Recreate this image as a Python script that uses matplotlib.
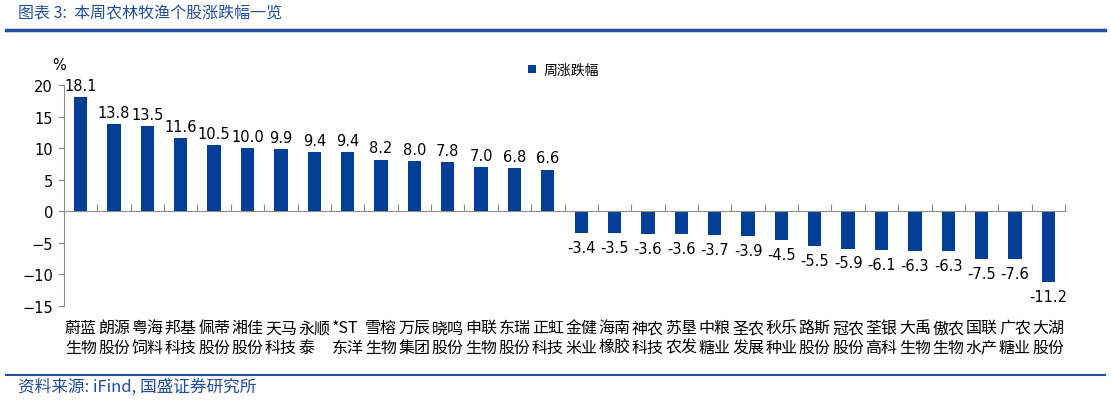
import matplotlib
matplotlib.use('Agg')
import matplotlib.pyplot as plt
from matplotlib.transforms import blended_transform_factory

plt.rcParams['font.family'] = ['DejaVu Sans', 'Noto Sans CJK SC']

# stock names (two lines each) and weekly change in %
names = ['蔚蓝\n生物', '朗源\n股份', '粤海\n饲料', '邦基\n科技', '佩蒂\n股份', '湘佳\n股份',
         '天马\n科技', '永顺\n泰', '*ST\n东洋', '雪榕\n生物', '万辰\n集团', '晓鸣\n股份',
         '申联\n生物', '东瑞\n股份', '正虹\n科技', '金健\n米业', '海南\n橡胶', '神农\n科技',
         '苏垦\n农发', '中粮\n糖业', '圣农\n发展', '秋乐\n种业', '路斯\n股份', '冠农\n股份',
         '荃银\n高科', '大禹\n生物', '傲农\n生物', '国联\n水产', '广农\n糖业', '大湖\n股份']
changes = [18.1, 13.8, 13.5, 11.6, 10.5, 10.0, 9.9, 9.4, 9.4, 8.2, 8.0, 7.8, 7.0, 6.8, 6.6,
           -3.4, -3.5, -3.6, -3.6, -3.7, -3.9, -4.5, -5.5, -5.9, -6.1, -6.3, -6.3, -7.5, -7.6, -11.2]
yticks = [-15, -10, -5, 0, 5, 10, 15, 20]

bar_color = '#003F95'
line_color = '#1F4E9E'
axis_color = '#8C8C8C'
cjk = ['Noto Sans CJK SC', 'DejaVu Sans']

fig = plt.figure(figsize=(11.11, 4.10), dpi=100)
ax = fig.add_axes([64 / 1111, 1 - 307 / 410, 1001 / 1111, 221 / 410])

x = list(range(len(changes)))
bars = ax.bar(x, changes, width=0.4, color=bar_color, label='周涨跌幅')

for xi, v in zip(x, changes):
    if v >= 0:
        ax.annotate(f'{v:.1f}', (xi, v), xytext=(0, 3), textcoords='offset points',
                    ha='center', va='bottom', fontsize=10.5)
    else:
        ax.annotate(f'{v:.1f}', (xi, v), xytext=(0, -5), textcoords='offset points',
                    ha='center', va='top', fontsize=10.5)

ax.set_xlim(-0.5, len(changes) - 0.5)
ax.set_ylim(-15, 20)
ax.set_yticks(yticks)
ax.tick_params(axis='y', labelsize=10.5, length=4, color=axis_color, direction='out', pad=4)

# category boundary ticks on the zero line
ax.spines['bottom'].set_position(('data', 0))
ax.spines['bottom'].set_color(axis_color)
ax.spines['left'].set_color(axis_color)
ax.spines['top'].set_visible(False)
ax.spines['right'].set_visible(False)
ax.set_xticks([i + 0.5 for i in x])
ax.tick_params(axis='x', direction='in', length=5, color=axis_color, labelbottom=False)

trans = blended_transform_factory(ax.transData, ax.transAxes)
for xi, name in zip(x, names):
    ax.text(xi, -0.06, name, transform=trans, ha='center', va='top', ma='left',
            fontsize=11.5, family=cjk, linespacing=1.2)

ax.text(-0.005, 1.06, '%', transform=ax.transAxes, ha='center', va='bottom', fontsize=10.5)

ax.legend(loc='center left', bbox_to_anchor=(0.458, 1.068), frameon=False,
          prop={'family': cjk, 'size': 10}, handlelength=0.6, handleheight=0.6,
          handletextpad=0.5, borderaxespad=0)

# header and footer
fig.text(18 / 1111, 1 - 14 / 410, '图表 3:  本周农林牧渔个股涨跌幅一览', color=line_color,
         fontsize=11.5, family=cjk, style='italic', ha='left', va='center')
fig.add_artist(plt.Line2D([6 / 1111, 1105 / 1111], [1 - 31 / 410] * 2, color=line_color, lw=2.5))
fig.add_artist(plt.Line2D([6 / 1111, 1105 / 1111], [1 - 376 / 410] * 2, color=line_color, lw=1.5))
fig.text(18 / 1111, 1 - 387 / 410, '资料来源: iFind, 国盛证券研究所', color=line_color,
         fontsize=12, family=cjk, style='italic', ha='left', va='center')

fig.savefig('out.png', dpi=100)
